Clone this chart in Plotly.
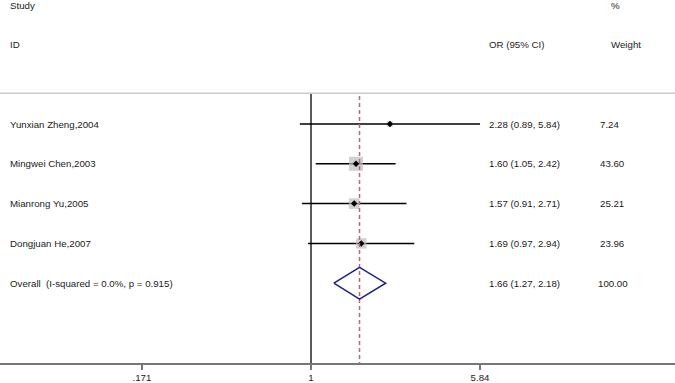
import plotly.graph_objects as go
import math

studies = ["Yunxian Zheng,2004", "Mingwei Chen,2003", "Mianrong Yu,2005", "Dongjuan He,2007"]
or_vals = [2.28, 1.60, 1.57, 1.69]
ci_low = [0.89, 1.05, 0.91, 0.97]
ci_high = [5.84, 2.42, 2.71, 2.94]
weights = [7.24, 43.60, 25.21, 23.96]

overall_label = "Overall  (I-squared = 0.0%, p = 0.915)"
overall_or = 1.66
overall_low = 1.27
overall_high = 2.18
overall_weight = 100.00

tick_vals = [0.171, 1, 5.84]
tick_text = [".171", "1", "5.84"]

FONT = "Liberation Sans, Arial, sans-serif"
FS = 9.7
TXT = "#222222"

fig = go.Figure()

rows = list(range(len(studies)))
overall_row = len(studies)
y_bottom = 6.005
y_top = -3.116
y_sep = -0.771

# CI lines
for i in rows:
    fig.add_trace(go.Scatter(x=[ci_low[i], ci_high[i]], y=[i, i], mode="lines",
                             line=dict(color="black", width=1.5), hoverinfo="skip", showlegend=False))

# weight squares
max_w = max(weights)
fig.add_trace(go.Scatter(x=or_vals, y=rows, mode="markers",
                         marker=dict(symbol="square", color="#bdbdbd",
                                     size=[14 * math.sqrt(w / max_w) for w in weights],
                                     line=dict(width=0)),
                         hoverinfo="skip", showlegend=False))
# point estimates
fig.add_trace(go.Scatter(x=or_vals, y=rows, mode="markers",
                         marker=dict(symbol="diamond", color="black", size=5),
                         hoverinfo="skip", showlegend=False))

# null line
fig.add_trace(go.Scatter(x=[1, 1], y=[y_sep + 0.02, y_bottom], mode="lines",
                         line=dict(color="black", width=1.3), hoverinfo="skip", showlegend=False))
# overall dashed line
fig.add_trace(go.Scatter(x=[overall_or, overall_or], y=[y_sep + 0.07, y_bottom], mode="lines",
                         line=dict(color="#b86874", width=1.5, dash="4px,3px"),
                         hoverinfo="skip", showlegend=False))

# diamond
h = 0.4
fig.add_trace(go.Scatter(x=[overall_low, overall_or, overall_high, overall_or, overall_low],
                         y=[overall_row, overall_row - h, overall_row, overall_row + h, overall_row],
                         mode="lines", line=dict(color="#1a237e", width=1.5),
                         hoverinfo="skip", showlegend=False))

# header separator
fig.add_shape(type="line", xref="paper", yref="y", x0=0, x1=1, y0=y_sep, y1=y_sep,
              line=dict(color="#cccccc", width=1.5))

ann = []
def add_text(x_px, y, text):
    ann.append(dict(x=x_px / 675, y=y, xref="paper", yref="y", text=text, showarrow=False,
                    xanchor="left", yanchor="middle", font=dict(family=FONT, size=FS, color=TXT)))

add_text(8, -2.99, "Study")
add_text(8, -2.01, "ID")
add_text(487, -2.01, "OR (95% CI)")
add_text(609, -2.99, "%")
add_text(609, -2.01, "Weight")

for i in rows:
    add_text(8, i, studies[i])
    add_text(487, i, f"{or_vals[i]:.2f} ({ci_low[i]:.2f}, {ci_high[i]:.2f})")
    add_text(598, i, f"{weights[i]:.2f}")

add_text(8, overall_row, overall_label)
add_text(487, overall_row, f"{overall_or:.2f} ({overall_low:.2f}, {overall_high:.2f})")
add_text(596, overall_row, f"{overall_weight:.2f}")

fig.update_layout(
    width=675, height=383,
    margin=dict(l=0, r=0, t=0, b=20),
    paper_bgcolor="white", plot_bgcolor="white",
    annotations=ann,
    xaxis=dict(type="log", range=[-1.4104, 1.6508], tickvals=tick_vals, ticktext=tick_text,
               showgrid=False, zeroline=False, showline=True, linecolor="#777777", linewidth=1.5,
               ticks="outside", ticklen=5, tickwidth=1.5, tickcolor="#777777",
               tickfont=dict(family=FONT, size=FS, color=TXT), fixedrange=True),
    yaxis=dict(range=[y_bottom, y_top], showgrid=False, zeroline=False, showline=False,
               showticklabels=False, ticks="", fixedrange=True),
    showlegend=False,
)

fig.write_html("out.html", config={"displayModeBar": False},
               post_script="document.body.style.margin='0';document.body.style.overflow='hidden';")
